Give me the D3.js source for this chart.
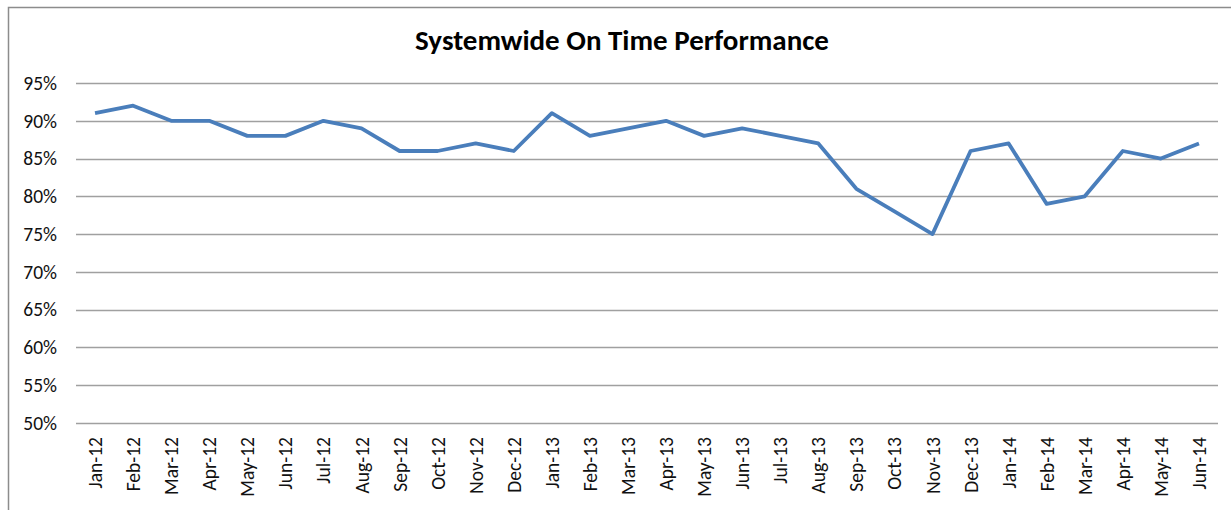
<!DOCTYPE html>
<html>
<head>
<meta charset="utf-8">
<script src="https://cdn.jsdelivr.net/npm/d3@7"></script>
<style>
  body { margin: 0; background: #fff; }
  svg { display: block; }
</style>
</head>
<body>
<div id="chart"></div>
<script>
// monthly on-time performance, Jan 2012 .. Jun 2014
var months = [
    'Jan-12', 'Feb-12', 'Mar-12', 'Apr-12', 'May-12', 'Jun-12',
    'Jul-12', 'Aug-12', 'Sep-12', 'Oct-12', 'Nov-12', 'Dec-12',
    'Jan-13', 'Feb-13', 'Mar-13', 'Apr-13', 'May-13', 'Jun-13',
    'Jul-13', 'Aug-13', 'Sep-13', 'Oct-13', 'Nov-13', 'Dec-13',
    'Jan-14', 'Feb-14', 'Mar-14', 'Apr-14', 'May-14', 'Jun-14'
];
var onTime = [
    0.91, 0.92, 0.90, 0.90, 0.88, 0.88,
    0.90, 0.89, 0.86, 0.86, 0.87, 0.86,
    0.91, 0.88, 0.89, 0.90, 0.88, 0.89,
    0.88, 0.87, 0.81, 0.78, 0.75, 0.86,
    0.87, 0.79, 0.80, 0.86, 0.85, 0.87
];
var yTicks = [0.50, 0.55, 0.60, 0.65, 0.70, 0.75, 0.80, 0.85, 0.90, 0.95];

var width = 1231, height = 510;
var margin = {left: 76, right: 13, top: 83, bottom: 87};
var font = 'Calibri, Carlito, "Open Sans", sans-serif';

var svg = d3.select('#chart').append('svg')
    .attr('width', width)
    .attr('height', height);

// chart frame (right/bottom fall outside the crop)
svg.append('rect')
    .attr('x', 8.5).attr('y', 7.5)
    .attr('width', width + 20).attr('height', height + 20)
    .attr('fill', 'none')
    .attr('stroke', '#8c8c8c')
    .attr('stroke-width', 1.5);

var x = d3.scaleBand()
    .domain(months)
    .range([margin.left, width - margin.right]);

var y = d3.scaleLinear()
    .domain([0.50, 0.95])
    .range([height - margin.bottom, margin.top]);

// gridlines
svg.append('g').selectAll('line')
    .data(yTicks)
    .enter()
    .append('line')
    .attr('x1', margin.left)
    .attr('x2', width - margin.right)
    .attr('y1', function(d) {return Math.round(y(d)) + 0.5})
    .attr('y2', function(d) {return Math.round(y(d)) + 0.5})
    .attr('stroke', '#a0a0a0')
    .attr('stroke-width', 1.4);

// y axis labels
var yAxis = d3.axisLeft(y)
    .tickValues(yTicks)
    .tickFormat(d3.format('.0%'))
    .tickSize(0)
    .tickPadding(19);

svg.append('g')
    .attr('transform', 'translate(' + margin.left + ',0)')
    .call(yAxis)
    .call(function(g) {g.select('.domain').remove()})
    .selectAll('text')
    .style('font-family', font)
    .style('font-size', '19.5px')
    .attr('fill', '#111');

// x axis labels, rotated
var xAxis = d3.axisBottom(x)
    .tickSize(0)
    .tickPadding(0);

svg.append('g')
    .attr('transform', 'translate(0,' + (height - margin.bottom) + ')')
    .call(xAxis)
    .call(function(g) {g.select('.domain').remove()})
    .selectAll('text')
    .style('font-family', font)
    .style('font-size', '19.5px')
    .attr('fill', '#111')
    .attr('text-anchor', 'end')
    .attr('dy', null)
    .attr('transform', 'translate(7,14) rotate(-90)');

// the series
var line = d3.line()
    .x(function(d, i) {return x(months[i]) + x.bandwidth() / 2})
    .y(function(d) {return y(d)});

svg.append('path')
    .datum(onTime)
    .attr('d', line)
    .attr('fill', 'none')
    .attr('stroke', '#4a7ebb')
    .attr('stroke-width', 3.8)
    .attr('stroke-linejoin', 'round');

// title
svg.append('text')
    .attr('x', 622)
    .attr('y', 50)
    .attr('text-anchor', 'middle')
    .style('font-family', font)
    .style('font-size', '29px')
    .style('font-weight', 'bold')
    .attr('fill', '#000')
    .text('Systemwide On Time Performance');
</script>
</body>
</html>
